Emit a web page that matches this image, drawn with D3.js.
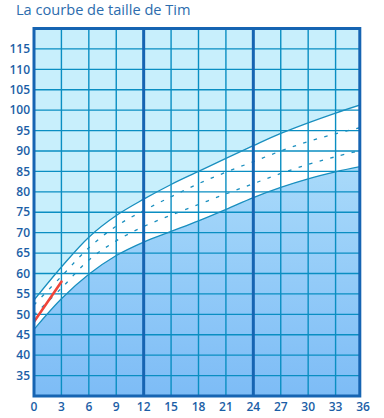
<!DOCTYPE html>
<html><head><meta charset="utf-8">
<script src="https://cdn.jsdelivr.net/npm/d3@7"></script>
<style>body{margin:0;background:#fff}svg{display:block}</style>
</head><body>
<script>
const months = [0,3,6,9,12,15,18,21,24,27,30,33,36];
const upperSolid = [53.5,61.6,68.9,74.2,78.2,81.8,85,88.2,91.3,94.3,96.9,99.3,101.5];
const upperDashed = [52.3,59.3,66.3,71.6,75.4,78.8,82,84.8,87.4,90,92.3,94.2,95.9];
const lowerDashed = [49.8,56.4,63.3,68,71.5,74.3,76.9,79.5,82,84.5,86.7,88.6,90.3];
const lowerSolid = [46.3,53.8,59.8,64.4,67.7,70.3,72.9,75.7,78.6,81.1,83.2,84.9,86.3];
const timMonths = [0,3];
const timHeights = [48.2,58];
const xTicks = [0,3,6,9,12,15,18,21,24,27,30,33,36];
const yTicks = [35,40,45,50,55,60,65,70,75,80,85,90,95,100,105,110,115];
const title = "La courbe de taille de Tim";

const W=384,H=418;
const svg=d3.select("body").append("svg").attr("width",W).attr("height",H);
const x=d3.scaleLinear().domain([0,36]).range([34,363]);
const y=d3.scaleLinear().domain([30,120]).range([396,28.5]);
const x0=x(0), x1=x(35.65), y0=y(30), y1=y(120);

const defs=svg.append("defs");
const g=defs.append("linearGradient").attr("id","lg").attr("x1",0).attr("y1",0).attr("x2",0).attr("y2",1);
g.append("stop").attr("offset",0).attr("stop-color","#a9dafa");
g.append("stop").attr("offset",1).attr("stop-color","#7dbcf6");
defs.append("clipPath").attr("id","cp").append("rect").attr("x",x0).attr("y",y1).attr("width",x1-x0).attr("height",y0-y1);

const plot=svg.append("g").attr("clip-path","url(#cp)");
plot.append("rect").attr("x",x0).attr("y",y1).attr("width",x1-x0).attr("height",y0-y1).attr("fill","#c8effc");

const curve=d3.curveCatmullRom.alpha(0.5);
const data=months.map((m,i)=>({m,us:upperSolid[i],ud:upperDashed[i],ld:lowerDashed[i],ls:lowerSolid[i]}));
plot.append("path").datum(data).attr("fill","#ffffff")
  .attr("d",d3.area().x(d=>x(d.m)).y0(d=>y(d.ls)).y1(d=>y(d.us)).curve(curve));
plot.append("path").datum(data).attr("fill","url(#lg)")
  .attr("d",d3.area().x(d=>x(d.m)).y0(y0).y1(d=>y(d.ls)).curve(curve));

const gridColor="#0a8ec2";
plot.selectAll("line.v").data(xTicks.filter(t=>t%12!==0)).join("line")
  .attr("x1",d=>x(d)).attr("x2",d=>x(d)).attr("y1",y1).attr("y2",y0)
  .attr("stroke",gridColor).attr("stroke-width",1.4);
plot.selectAll("line.h").data(yTicks).join("line")
  .attr("y1",d=>y(d)).attr("y2",d=>y(d)).attr("x1",x0).attr("x2",x1)
  .attr("stroke",gridColor).attr("stroke-width",1.4);

const line=k=>d3.line().x(d=>x(d.m)).y(d=>y(d[k])).curve(curve);
const cc="#1a8fbf";
plot.append("path").datum(data).attr("d",line("us")).attr("fill","none").attr("stroke",cc).attr("stroke-width",1.3);
plot.append("path").datum(data).attr("d",line("ls")).attr("fill","none").attr("stroke",cc).attr("stroke-width",1.3);
plot.append("path").datum(data).attr("d",line("ud")).attr("fill","none").attr("stroke",cc).attr("stroke-width",1.3).attr("stroke-dasharray","3.5 7.5");
plot.append("path").datum(data).attr("d",line("ld")).attr("fill","none").attr("stroke",cc).attr("stroke-width",1.3).attr("stroke-dasharray","3.5 7.5");

const dark="#1664b2";
plot.selectAll("line.t").data(xTicks.filter(t=>t%12===0&&t>0&&t<36)).join("line")
  .attr("x1",d=>x(d)).attr("x2",d=>x(d)).attr("y1",y1).attr("y2",y0)
  .attr("stroke",dark).attr("stroke-width",3);

plot.append("path").datum(timMonths.map((m,i)=>({m,h:timHeights[i]})))
  .attr("d",d3.line().x(d=>x(d.m)).y(d=>y(d.h)))
  .attr("stroke","#f0453a").attr("stroke-width",2.6).attr("fill","none").attr("stroke-linecap","round");

svg.append("rect").attr("x",x0).attr("y",y1).attr("width",x1-x0).attr("height",y0-y1)
  .attr("fill","none").attr("stroke",dark).attr("stroke-width",3);

const tc="#1b5ea6";
svg.selectAll("text.y").data(yTicks).join("text")
  .attr("x",30).attr("y",d=>y(d)).attr("dy","0.35em").attr("text-anchor","end")
  .attr("font-family","Open Sans, sans-serif").attr("font-size",12).attr("font-weight",600)
  .attr("fill",tc).text(d=>d);
svg.selectAll("text.x").data(xTicks).join("text")
  .attr("x",d=>x(d)).attr("y",411).attr("text-anchor","middle")
  .attr("font-family","Open Sans, sans-serif").attr("font-size",12).attr("font-weight",600)
  .attr("fill",tc).text(d=>d);
svg.append("text").attr("x",16).attr("y",15).attr("font-family","Open Sans, sans-serif")
  .attr("font-size",14.6).attr("fill","#2c6cad").text(title);
</script>
</body></html>
